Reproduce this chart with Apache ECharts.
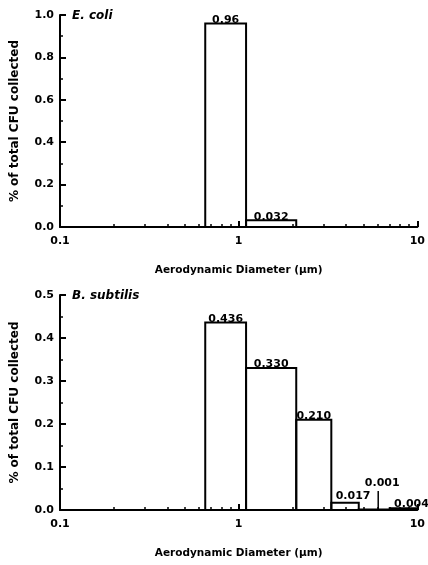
<!DOCTYPE html>
<html>
<head>
<meta charset="utf-8">
<script src="https://cdn.jsdelivr.net/npm/echarts@6/dist/echarts.min.js"></script>
<style>
html,body{margin:0;padding:0;background:#fff;}
#c{width:428px;height:565px;}
</style>
</head>
<body>
<div id="c"></div>
<script>
// ---- data ----
const xMajorTicks = [0.1, 1, 10];
const xMinorTicks = [0.2, 0.3, 0.4, 0.5, 0.6, 0.7, 0.8, 0.9, 2, 3, 4, 5, 6, 7, 8, 9];
const binEdges = [0.65, 1.1, 2.1, 3.3, 4.7, 7.0, 10];
const ecoliValues = [0.96, 0.032];
const ecoliLabels = ['0.96', '0.032'];
const subtilisValues = [0.436, 0.330, 0.210, 0.017, 0.001, 0.004];
const subtilisLabels = ['0.436', '0.330', '0.210', '0.017', '0.001', '0.004'];
const ecoliYTicks = [0, 0.2, 0.4, 0.6, 0.8, 1.0];
const subtilisYTicks = [0, 0.1, 0.2, 0.3, 0.4, 0.5];
const xAxisTitle = 'Aerodynamic Diameter (\u03bcm)';
const yAxisTitle = '% of total CFU collected';
const panelTitles = ['E. coli', 'B. subtilis'];

// ---- styling / layout (not data) ----
const FONT = '"DejaVu Sans", "Liberation Sans", sans-serif';
const labelLayout = [
  {},
  {3: {dx: 8, dy: -1}, 4: {leader: 19, leaderDx: 4, dx: 8, dy: -21}, 5: {dx: 8, dy: 1}}
];

function binData(values) {
  return values.map((v, i) => [binEdges[i], binEdges[i + 1], v]);
}

function makeRender(labels, layout) {
  return function (params, api) {
    const i = params.dataIndex;
    const lo = api.value(0), hi = api.value(1), v = api.value(2);
    const a = api.coord([lo, 0]), b = api.coord([lo, v]), c = api.coord([hi, v]), d = api.coord([hi, 0]);
    const cx = api.coord([Math.sqrt(lo * hi), v])[0];
    const L = layout[i] || {};
    const children = [{
      type: 'polyline',
      shape: {points: [a, b, c, d]},
      style: {stroke: '#000', lineWidth: 2, fill: null}
    }];
    if (L.leader) {
      const lx = cx + (L.leaderDx || 0);
      children.push({
        type: 'line',
        shape: {x1: lx, y1: a[1], x2: lx, y2: a[1] - L.leader},
        style: {stroke: '#000', lineWidth: 1.5}
      });
    }
    children.push({
      type: 'text',
      style: {
        text: labels[i],
        x: cx + (L.dx || 0),
        y: b[1] + (L.dy !== undefined ? L.dy : 2),
        align: 'center',
        verticalAlign: 'bottom',
        fill: '#000',
        font: 'bold 11px ' + FONT
      }
    });
    return {type: 'group', children: children};
  };
}

const grids = [
  {left: 60, right: 9, top: 15, height: 212},
  {left: 60, right: 9, top: 295, height: 215}
];

const xAxes = [];
const yAxes = [];
[0, 1].forEach(g => {
  xAxes.push({
    gridIndex: g, type: 'log', logBase: 10, min: 0.1, max: 10,
    axisLine: {lineStyle: {color: '#000', width: 2}},
    axisTick: {inside: true, length: 6, lineStyle: {color: '#000', width: 2}, customValues: xMajorTicks},
    axisLabel: {color: '#000', fontFamily: FONT, fontWeight: 'bold', fontSize: 11, margin: 9,
      customValues: xMajorTicks, formatter: v => String(v)},
    splitLine: {show: false},
    name: xAxisTitle, nameLocation: 'middle', nameGap: 38,
    nameTextStyle: {color: '#000', fontFamily: FONT, fontWeight: 'bold', fontSize: 10.5}
  });
  xAxes.push({
    gridIndex: g, type: 'log', logBase: 10, min: 0.1, max: 10, position: 'bottom',
    axisLine: {show: false},
    axisTick: {inside: true, length: 3, lineStyle: {color: '#000', width: 1.5}, customValues: xMinorTicks},
    axisLabel: {show: false},
    splitLine: {show: false}
  });
  const ticks = g === 0 ? ecoliYTicks : subtilisYTicks;
  yAxes.push({
    gridIndex: g, type: 'value', min: ticks[0], max: ticks[ticks.length - 1],
    interval: ticks[1] - ticks[0],
    axisLine: {show: true, lineStyle: {color: '#000', width: 2}},
    axisTick: {show: true, inside: true, length: 6, lineStyle: {color: '#000', width: 2}},
    minorTick: {show: true, splitNumber: 2, length: 3, lineStyle: {color: '#000', width: 1.5}},
    axisLabel: {color: '#000', fontFamily: FONT, fontWeight: 'bold', fontSize: 11, margin: 6,
      formatter: v => v.toFixed(1)},
    splitLine: {show: false},
    name: yAxisTitle, nameLocation: 'middle', nameGap: 39,
    nameTextStyle: {color: '#000', fontFamily: FONT, fontWeight: 'bold', fontSize: 12}
  });
});

const titleStyle = {fontFamily: FONT, fontStyle: 'italic', fontWeight: 'bold', fontSize: 12, color: '#000'};
const option = {
  backgroundColor: '#fff',
  animation: false,
  title: [
    {text: panelTitles[0], left: 72, top: 10, padding: 0, textStyle: titleStyle},
    {text: panelTitles[1], left: 72, top: 290, padding: 0, textStyle: titleStyle}
  ],
  grid: grids,
  xAxis: xAxes,
  yAxis: yAxes,
  series: [
    {type: 'custom', xAxisIndex: 0, yAxisIndex: 0, data: binData(ecoliValues),
      encode: {x: [0, 1], y: 2}, renderItem: makeRender(ecoliLabels, labelLayout[0]), clip: false},
    {type: 'custom', xAxisIndex: 2, yAxisIndex: 1, data: binData(subtilisValues),
      encode: {x: [0, 1], y: 2}, renderItem: makeRender(subtilisLabels, labelLayout[1]), clip: false}
  ]
};

const chart = echarts.init(document.getElementById('c'), null, {renderer: 'canvas'});
chart.setOption(option);
</script>
</body>
</html>
